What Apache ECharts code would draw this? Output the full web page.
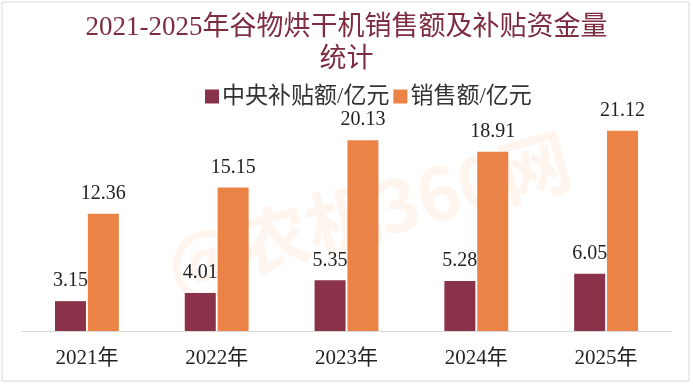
<!DOCTYPE html>
<html><head><meta charset="utf-8">
<script src="https://cdn.jsdelivr.net/npm/echarts@6/dist/echarts.min.js"></script>
<style>html,body{margin:0;padding:0;background:#fff}#c{width:693px;height:390px}</style>
</head><body><div id="c"></div>
<script>
const categories = ['2021年','2022年','2023年','2024年','2025年'];
const subsidy = [3.15, 4.01, 5.35, 5.28, 6.05];
const sales = [12.36, 15.15, 20.13, 18.91, 21.12];
const seriesNames = ['中央补贴额/亿元','销售额/亿元'];

const FONT = "'Liberation Serif','Noto Sans CJK SC',serif";
const chart = echarts.init(document.getElementById('c'));
const labelStyle = {show:true, position:'top', distance:10, fontSize:20, color:'#222', fontFamily:FONT,
  formatter: p => p.value.toFixed(2)};
chart.setOption({
  animation:false,
  backgroundColor:'#fff',
  title:{text:'2021-2025年谷物烘干机销售额及补贴资金量\n统计', left:'center', top:7,
    textStyle:{color:'#7e2c3f', fontSize:27, fontWeight:'normal', fontFamily:FONT, lineHeight:32}},
  legend:{left:200, top:80, itemWidth:14, itemHeight:14, itemGap:4, icon:'rect',
    textStyle:{fontSize:23, color:'#333', fontFamily:FONT, padding:[0,0,0,-2]},
    data:seriesNames},
  grid:{left:22, right:22, top:94, bottom:59},
  xAxis:{type:'category', data:categories,
    axisLine:{lineStyle:{color:'#d9d9d9'}}, axisTick:{show:false},
    axisLabel:{fontSize:21, color:'#222', fontFamily:FONT, margin:17}},
  yAxis:{type:'value', min:0, max:25, show:false, splitLine:{show:false}},
  graphic:[
    {type:'rect', shape:{x:2,y:2,width:687,height:379}, style:{fill:null, stroke:'#d9d9d9', lineWidth:1}, z:-10},
    {type:'text', x:168, y:268, rotation:0.27, z:-5,
      style:{text:'@农机360网', fontSize:72, fontWeight:'bold', textAlign:'left', textVerticalAlign:'middle',
        fill:'rgba(240,140,70,0.09)', fontFamily:"'Noto Sans CJK SC'"}}
  ],
  series:[
    {name:seriesNames[0], type:'bar', data:subsidy, barWidth:31, barGap:'6%',
      itemStyle:{color:'#8a3249'}, label:labelStyle},
    {name:seriesNames[1], type:'bar', data:sales, barWidth:31,
      itemStyle:{color:'#eb8347'}, label:labelStyle}
  ]
});
</script></body></html>
